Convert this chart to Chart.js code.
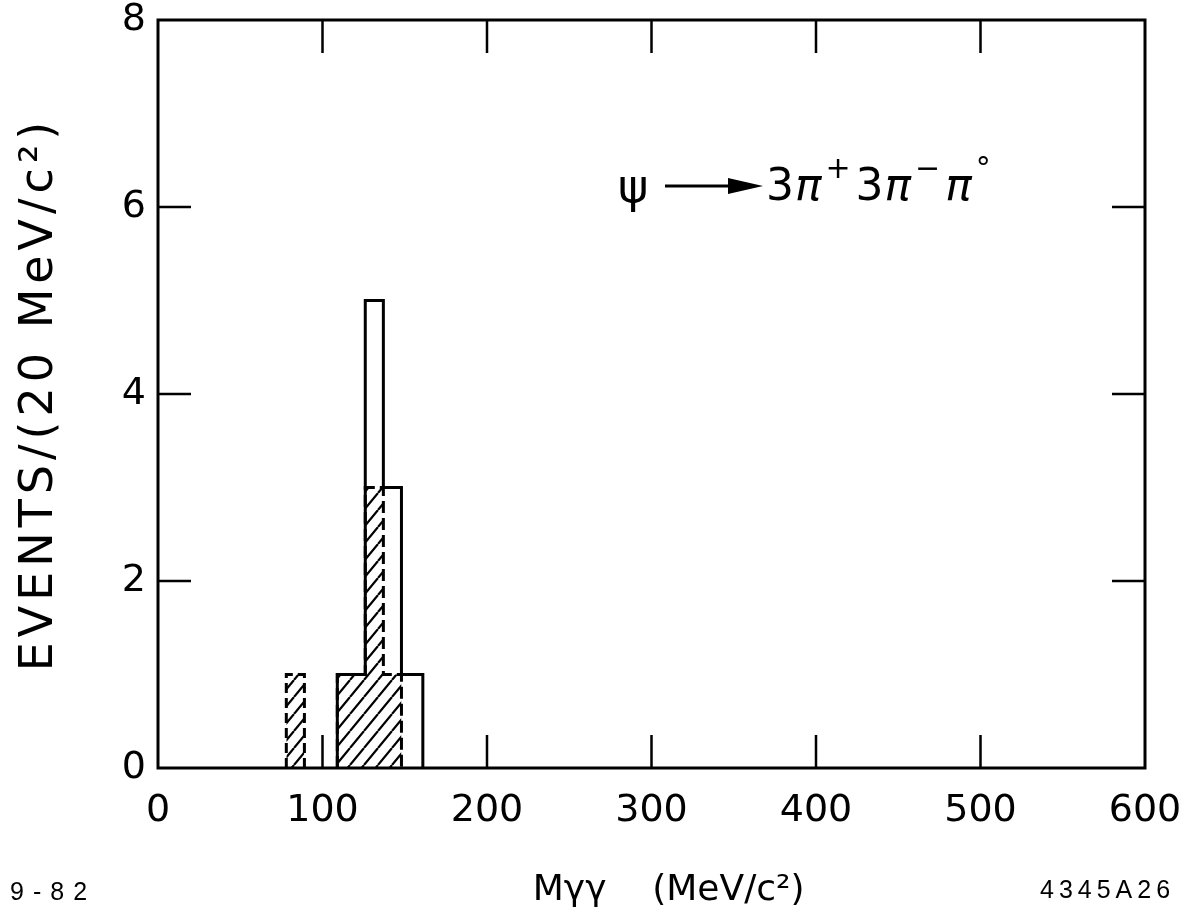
<!DOCTYPE html>
<html><head><meta charset="utf-8">
<script src="https://cdn.jsdelivr.net/npm/chart.js@4.4.1/dist/chart.umd.min.js"></script>
<style>html,body{margin:0;padding:0;background:#fff;} #wrap{width:1202px;height:916px;}</style>
</head><body><div id="wrap"><canvas id="c" width="1202" height="916"></canvas></div>
<script>
// ---- data ----
const xTickValues = [0, 100, 200, 300, 400, 500, 600];
const yTickValues = [0, 2, 4, 6, 8];
const allEdges   = [109, 126, 137, 148, 161];   // MeV/c^2 bin edges, all events (solid outline)
const allCounts  = [1, 5, 3, 1];
const hatchEdges = [109, 126, 137, 148];        // hatched subset (dashed outline)
const hatchCounts = [1, 3, 1];
const sideEdges  = [78, 89];                    // isolated hatched bin
const sideCounts = [1];
const xTitle = '   Mγγ    (MeV/c²)';
const yTitle = 'EVENTS/(20 MeV/c²)';
const leftNote = '9-82';
const rightNote = '4345A26';

function stepPoints(edges, counts) {
  const pts = [{x: edges[0], y: 0}];
  for (let i = 0; i < counts.length; i++) {
    pts.push({x: edges[i], y: counts[i]});
    pts.push({x: edges[i + 1], y: counts[i]});
  }
  pts.push({x: edges[edges.length - 1], y: 0});
  return pts;
}

const canvas = document.getElementById('c');
const ctx = canvas.getContext('2d');
function makeHatch() {
  const w = 14, h = 17;
  const c = document.createElement('canvas');
  c.width = w; c.height = h;
  const g = c.getContext('2d');
  g.strokeStyle = '#000'; g.lineWidth = 2.2;
  g.beginPath();
  for (const dx of [-w, 0, w]) { g.moveTo(dx, h); g.lineTo(dx + w, 0); }
  g.stroke();
  return ctx.createPattern(c, 'repeat');
}
const hatch = makeHatch();

Chart.defaults.color = '#000';
Chart.defaults.font.family = 'DejaVu Sans';

const decor = {
  id: 'decor',
  afterLayout(chart) {
    const s = chart.scales.y;
    if (s && !s._spaced) {
      const orig = s.drawTitle.bind(s);
      s.drawTitle = function () {
        const c = this.ctx; const prev = c.letterSpacing;
        c.letterSpacing = '5px'; orig(); c.letterSpacing = prev;
      };
      s._spaced = true;
    }
  },
  afterDraw(chart) {
    const {ctx, chartArea: a, scales: {x, y}} = chart;
    ctx.save();
    ctx.strokeStyle = '#000';
    ctx.lineWidth = 3;
    ctx.strokeRect(a.left, a.top, a.right - a.left, a.bottom - a.top);
    ctx.lineWidth = 2.5;
    const L = 33;
    ctx.beginPath();
    for (const v of xTickValues.slice(1, -1)) {
      const px = x.getPixelForValue(v);
      ctx.moveTo(px, a.bottom); ctx.lineTo(px, a.bottom - L);
      ctx.moveTo(px, a.top); ctx.lineTo(px, a.top + L);
    }
    for (const v of yTickValues.slice(1, -1)) {
      const py = y.getPixelForValue(v);
      ctx.moveTo(a.left, py); ctx.lineTo(a.left + L, py);
      ctx.moveTo(a.right, py); ctx.lineTo(a.right - L, py);
    }
    ctx.stroke();

    // reaction label
    ctx.fillStyle = '#000';
    ctx.textBaseline = 'alphabetic';
    const base = 200;
    ctx.font = '46px DejaVu Sans';
    ctx.fillText('ψ', 618, base + 2);
    ctx.lineWidth = 3;
    ctx.beginPath(); ctx.moveTo(665, 186); ctx.lineTo(735, 186); ctx.stroke();
    ctx.beginPath(); ctx.moveTo(728, 178); ctx.lineTo(763, 186); ctx.lineTo(728, 194); ctx.closePath(); ctx.fill();
    const parts = [['3', 0], ['π', 2], ['+', 1], ['3', 0], ['π', 2], ['−', 1], ['π', 2], ['°', 1]];
    let cx = 766;
    for (const [t, kind] of parts) {
      if (kind === 1) {
        ctx.font = '30px DejaVu Sans';
        ctx.fillText(t, cx + 3, base - 22);
        cx += ctx.measureText(t).width + 8;
      } else {
        ctx.font = (kind === 2 ? 'italic ' : '') + '44px DejaVu Sans';
        ctx.fillText(t, cx, base);
        cx += ctx.measureText(t).width + 1;
      }
    }

    // corner notes
    ctx.font = '25px Liberation Sans';
    ctx.letterSpacing = '9px';
    ctx.fillText(leftNote, 10, 900);
    ctx.letterSpacing = '5px';
    ctx.fillText(rightNote, 1040, 898);
    ctx.restore();
  }
};

new Chart(ctx, {
  type: 'line',
  data: {
    datasets: [
      { data: stepPoints(allEdges, allCounts), borderColor: '#000', borderWidth: 3,
        fill: false, pointRadius: 0, tension: 0 },
      { data: stepPoints(hatchEdges, hatchCounts), borderColor: '#000', borderWidth: 3,
        borderDash: [12, 5], fill: 'origin', backgroundColor: hatch, pointRadius: 0, tension: 0 },
      { data: stepPoints(sideEdges, sideCounts), borderColor: '#000', borderWidth: 3,
        borderDash: [10, 5], fill: 'origin', backgroundColor: hatch, pointRadius: 0, tension: 0 }
    ]
  },
  options: {
    responsive: false,
    animation: false,
    layout: { padding: { left: 0, right: 57, top: 20, bottom: 0 } },
    plugins: { legend: { display: false }, tooltip: { enabled: false } },
    scales: {
      x: {
        type: 'linear', min: 0, max: 600,
        afterBuildTicks: s => { s.ticks = xTickValues.map(v => ({value: v})); },
        afterFit: s => { s.height = 148; },
        grid: { display: false, drawTicks: false },
        border: { display: false },
        ticks: { font: { size: 38 }, padding: 20, maxRotation: 0 },
        title: { display: true, text: xTitle, font: { size: 36 }, padding: { top: 18 } }
      },
      y: {
        type: 'linear', min: 0, max: 8,
        afterBuildTicks: s => { s.ticks = yTickValues.map(v => ({value: v})); },
        afterFit: s => { s.width = 158; s.paddingTop = 0; s.paddingBottom = 0; },
        grid: { display: false, drawTicks: false },
        border: { display: false },
        ticks: { font: { size: 38 }, padding: 12 },
        title: { display: true, text: yTitle, font: { size: 46 }, padding: { top: 12, bottom: 0 } }
      }
    }
  },
  plugins: [decor]
});
</script></body></html>
